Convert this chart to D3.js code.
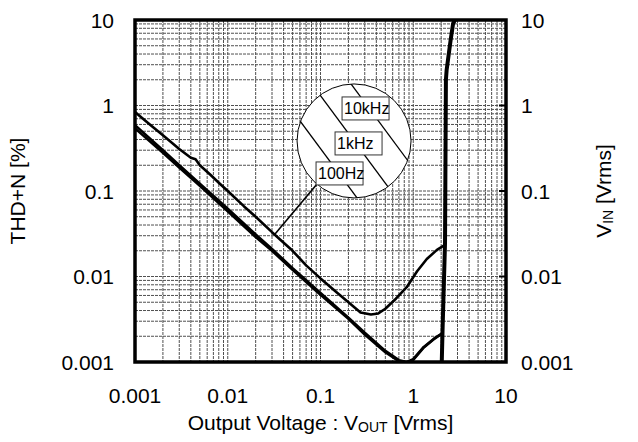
<!DOCTYPE html>
<html>
<head>
<meta charset="utf-8">
<title>THD+N vs Output Voltage</title>
<style>
  html,body{margin:0;background:#fff;}
  svg{display:block;font-family:"Liberation Sans",Arial,Helvetica,sans-serif;}
</style>
</head>
<body>
<div id="chart"></div>
<script src="https://cdn.jsdelivr.net/npm/d3@7"></script>
<script>
const width = 638, height = 442;
const margin = {top: 20, right: 132, bottom: 80, left: 135};
const w = width - margin.left - margin.right,
      h = height - margin.top - margin.bottom;

// axis ticks
const voutTicks = [0.001, 0.01, 0.1, 1, 10];
const voutTickLabels = ["0.001", "0.01", "0.1", "1", "10"];
const levelTicks = [0.001, 0.01, 0.1, 1, 10];
const levelTickLabels = ["0.001", "0.01", "0.1", "1", "10"];

// THD+N curves
const vout10k = [0.001, 0.0015, 0.002, 0.003, 0.004, 0.0045, 0.005, 0.0065, 0.008, 0.01, 0.015, 0.02, 0.03, 0.05, 0.07, 0.1, 0.15, 0.2, 0.27, 0.35, 0.42, 0.5, 0.65, 0.85, 1.1, 1.4, 1.8, 2.2];
const thd10k  = [0.84, 0.58, 0.45, 0.31, 0.245, 0.235, 0.2, 0.155, 0.125, 0.1, 0.066, 0.05, 0.033, 0.02, 0.0135, 0.0095, 0.0065, 0.005, 0.0038, 0.0036, 0.0037, 0.0042, 0.0055, 0.0075, 0.0115, 0.016, 0.0205, 0.0235];

const vout1k = [0.001, 0.002, 0.003, 0.005, 0.01, 0.02, 0.03, 0.05, 0.1, 0.2, 0.3, 0.5, 0.7, 0.85, 1.0, 1.3, 1.7, 2.1];
const thd1k  = [0.59, 0.3, 0.2, 0.122, 0.062, 0.031, 0.021, 0.0125, 0.0064, 0.0033, 0.0022, 0.00135, 0.00105, 0.001, 0.00108, 0.0015, 0.0019, 0.0022];

const vout100 = [0.001, 0.002, 0.003, 0.005, 0.01, 0.02, 0.03, 0.05, 0.1, 0.2, 0.3, 0.5, 0.7, 0.85, 1.0, 1.3, 1.7, 2.1];
const thd100  = [0.54, 0.28, 0.188, 0.115, 0.058, 0.029, 0.02, 0.012, 0.0061, 0.0032, 0.0021, 0.0013, 0.00102, 0.00098, 0.00106, 0.00148, 0.00188, 0.0022];

// input voltage curve (right axis)
const voutIn = [2.03, 2.07, 2.2, 2.25, 2.29, 2.53, 2.69, 2.82];
const vin    = [0.001, 0.00237, 0.0245, 1.99, 2.6, 5.84, 9.1, 10];

// circle legend
const legendLabels = ["10kHz", "1kHz", "100Hz"];
const legendCenter = [0.23, 0.385];      // in data units
const leaderTarget = [0.032, 0.031];     // in data units

const svg = d3.select("#chart").append("svg")
    .attr("width", width)
    .attr("height", height);

const g = svg.append("g").attr("transform", `translate(${margin.left},${margin.top})`);

const x = d3.scaleLog().domain([0.001, 10]).range([0, w]);
const y = d3.scaleLog().domain([0.001, 10]).range([h, 0]);

// minor grid at 1..9 of each decade
const gridVals = [];
for (let e = -3; e < 1; e++) {
    for (let m = 1; m <= 9; m++) gridVals.push(m * Math.pow(10, e));
}
gridVals.push(10);

const grid = g.append("g").attr("stroke", "#505050").attr("stroke-width", 1).attr("stroke-dasharray", "3,1");
grid.selectAll(".vx").data(gridVals).enter().append("line")
    .attr("x1", d => x(d)).attr("x2", d => x(d))
    .attr("y1", 0).attr("y2", h);
grid.selectAll(".hy").data(gridVals).enter().append("line")
    .attr("y1", d => y(d)).attr("y2", d => y(d))
    .attr("x1", 0).attr("x2", w);

g.append("clipPath").attr("id", "plotClip")
  .append("rect").attr("width", w).attr("height", h);

const line = d3.line().x(d => x(d[0])).y(d => y(d[1]));
const series = [
    {xs: vout10k, ys: thd10k, sw: 2.6},
    {xs: vout1k, ys: thd1k, sw: 2.6},
    {xs: vout100, ys: thd100, sw: 2.6},
    {xs: voutIn, ys: vin, sw: 4}
];

g.append("g").attr("clip-path", "url(#plotClip)")
  .selectAll("path").data(series).enter().append("path")
    .attr("d", s => line(s.xs.map((v, i) => [v, s.ys[i]])))
    .attr("fill", "none")
    .attr("stroke", "#000")
    .attr("stroke-width", s => s.sw)
    .attr("stroke-linejoin", "round");

// legend circle
const cx = x(legendCenter[0]), cy = y(legendCenter[1]), r = 57;
const leg = g.append("g");
leg.append("clipPath").attr("id", "legClip")
  .append("circle").attr("cx", cx).attr("cy", cy).attr("r", r);

// leader line from the label to a curve
leg.append("line")
    .attr("x1", cx - 37).attr("y1", cy + 43)
    .attr("x2", x(leaderTarget[0])).attr("y2", y(leaderTarget[1]))
    .attr("stroke", "#000").attr("stroke-width", 1.6);

leg.append("circle").attr("cx", cx).attr("cy", cy).attr("r", r)
    .attr("fill", "#fff").attr("stroke", "#000").attr("stroke-width", 1);

const slope = 1.35;
const nlen = Math.sqrt(1 + slope * slope);
const offsets = [-31.5, 0, 31.5];
leg.append("g").attr("clip-path", "url(#legClip)")
  .selectAll("line").data(offsets).enter().append("line")
    .attr("x1", d => cx + d * slope / nlen - 80 / nlen)
    .attr("y1", d => cy - d / nlen - 80 * slope / nlen)
    .attr("x2", d => cx + d * slope / nlen + 80 / nlen)
    .attr("y2", d => cy - d / nlen + 80 * slope / nlen)
    .attr("stroke", "#000").attr("stroke-width", 1.3);

const boxPos = [[-12, -44], [-19, -9], [-38, 21]];
const boxes = leg.selectAll(".lbl").data(legendLabels).enter().append("g")
    .attr("transform", (d, i) => `translate(${cx + boxPos[i][0]},${cy + boxPos[i][1]})`);
boxes.append("rect").attr("width", 47).attr("height", 23)
    .attr("fill", "#fff").attr("stroke", "#333").attr("stroke-width", 1);
boxes.append("text").attr("x", 2).attr("y", 17)
    .attr("font-size", 16).text(d => d);

// frame
g.append("rect").attr("width", w).attr("height", h)
    .attr("fill", "none").attr("stroke", "#000").attr("stroke-width", 3.5);

// inner ticks on the right side
g.selectAll(".rt").data(levelTicks).enter().append("line")
    .attr("x1", w - 7).attr("x2", w)
    .attr("y1", d => y(d)).attr("y2", d => y(d))
    .attr("stroke", "#000").attr("stroke-width", 2);

// tick labels
const fs = 21;
g.selectAll(".xl").data(voutTicks).enter().append("text")
    .attr("x", d => x(d)).attr("y", h + 41)
    .attr("text-anchor", "middle").attr("font-size", fs)
    .text((d, i) => voutTickLabels[i]);
g.selectAll(".yl").data(levelTicks).enter().append("text")
    .attr("x", -21).attr("y", d => y(d)).attr("dy", "0.36em")
    .attr("text-anchor", "end").attr("font-size", fs)
    .text((d, i) => levelTickLabels[i]);
g.selectAll(".yr").data(levelTicks).enter().append("text")
    .attr("x", w + 15).attr("y", d => y(d)).attr("dy", "0.36em")
    .attr("text-anchor", "start").attr("font-size", fs)
    .text((d, i) => levelTickLabels[i]);

// axis titles
const xt = svg.append("text")
    .attr("x", margin.left + w / 2).attr("y", 430)
    .attr("text-anchor", "middle").attr("font-size", fs);
xt.append("tspan").text("Output Voltage : V");
xt.append("tspan").attr("font-size", 14).attr("dy", 2).text("OUT");
xt.append("tspan").attr("dy", -2).text(" [Vrms]");

svg.append("text")
    .attr("transform", `translate(25,${margin.top + h / 2}) rotate(-90)`)
    .attr("text-anchor", "middle").attr("font-size", fs)
    .text("THD+N [%]");

const yt = svg.append("text")
    .attr("transform", `translate(611,${margin.top + h / 2}) rotate(-90)`)
    .attr("text-anchor", "middle").attr("font-size", fs);
yt.append("tspan").text("V");
yt.append("tspan").attr("font-size", 14).attr("dy", 2).text("IN");
yt.append("tspan").attr("dy", -2).text(" [Vrms]");
</script>
</body>
</html>
